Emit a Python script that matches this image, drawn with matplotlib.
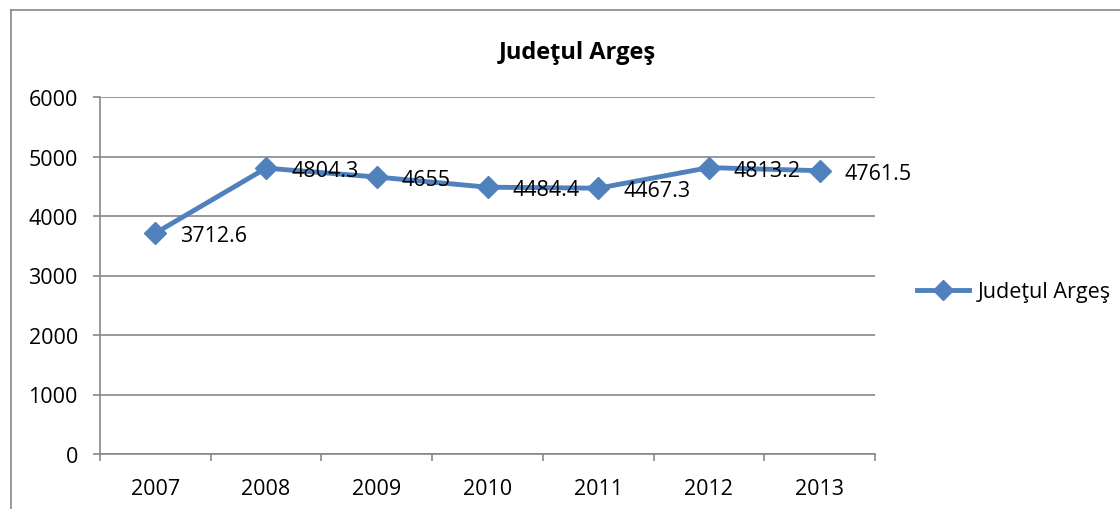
import matplotlib
matplotlib.use("Agg")
import matplotlib.pyplot as plt
from matplotlib.lines import Line2D

plt.rcParams['font.family'] = ['Open Sans', 'DejaVu Sans']

years = ["2007", "2008", "2009", "2010", "2011", "2012", "2013"]
values = [3712.6, 4804.3, 4655, 4484.4, 4467.3, 4813.2, 4761.5]
labels = ["3712.6", "4804.3", "4655", "4484.4", "4467.3", "4813.2", "4761.5"]
yticks = [0, 1000, 2000, 3000, 4000, 5000, 6000]
series_name = "Judeţul Argeş"
title = "Judeţul Argeş"

W, H = 1120, 510
FS = 15.5
fig = plt.figure(figsize=(W / 100, H / 100), dpi=100)

# outer chart border (left and top visible)
fig.add_artist(Line2D([11 / W, 11 / W], [0, 1 - 11 / H], color="#888888", lw=1.2,
                      transform=fig.transFigure))
fig.add_artist(Line2D([11 / W, 1], [1 - 11 / H, 1 - 11 / H], color="#888888", lw=1.2,
                      transform=fig.transFigure))

ax = fig.add_axes([100 / W, (H - 455) / H, 775 / W, 357 / H])
x = list(range(len(years)))
ax.plot(x, values, color="#4F81BD", lw=3.5, marker="D", markersize=11.5,
        label=series_name, zorder=3)
for xi, v, lab in zip(x, values, labels):
    ax.annotate(lab, (xi, v), xytext=(18, -2), textcoords="offset points",
                va="center", ha="left", fontsize=FS, color="black", zorder=4)

ax.set_xlim(-0.5, len(years) - 0.5)
ax.set_ylim(0, 6000)
ax.set_yticks(yticks)
ax.set_yticklabels([str(t) for t in yticks], fontsize=FS)
ax.set_xticks(x)
ax.set_xticklabels(years, fontsize=FS)
ax.set_xticks([i - 0.5 for i in range(len(years) + 1)], minor=True)
ax.tick_params(axis="x", which="major", length=0, pad=17)
ax.tick_params(axis="x", which="minor", length=5, color="#888888", width=1.2)
ax.tick_params(axis="y", length=5, color="#888888", width=1.2, pad=11)
ax.grid(axis="y", color="#888888", lw=1.2, zorder=0)
for s in ["top", "right"]:
    ax.spines[s].set_visible(False)
for s in ["left", "bottom"]:
    ax.spines[s].set_color("#888888")
    ax.spines[s].set_linewidth(1.2)

fig.text(577 / W, 1 - 53 / H, title, ha="center", va="center", fontsize=17,
         fontweight="bold")

handle = Line2D([], [], color="#4F81BD", lw=3.5, marker="D", markersize=10.5)
fig.legend([handle], [series_name], loc="center left",
           bbox_to_anchor=(898 / W, 1 - 293 / H), frameon=False, fontsize=FS,
           handlelength=2.4, handletextpad=0.4)

fig.savefig("out.png", dpi=100)
